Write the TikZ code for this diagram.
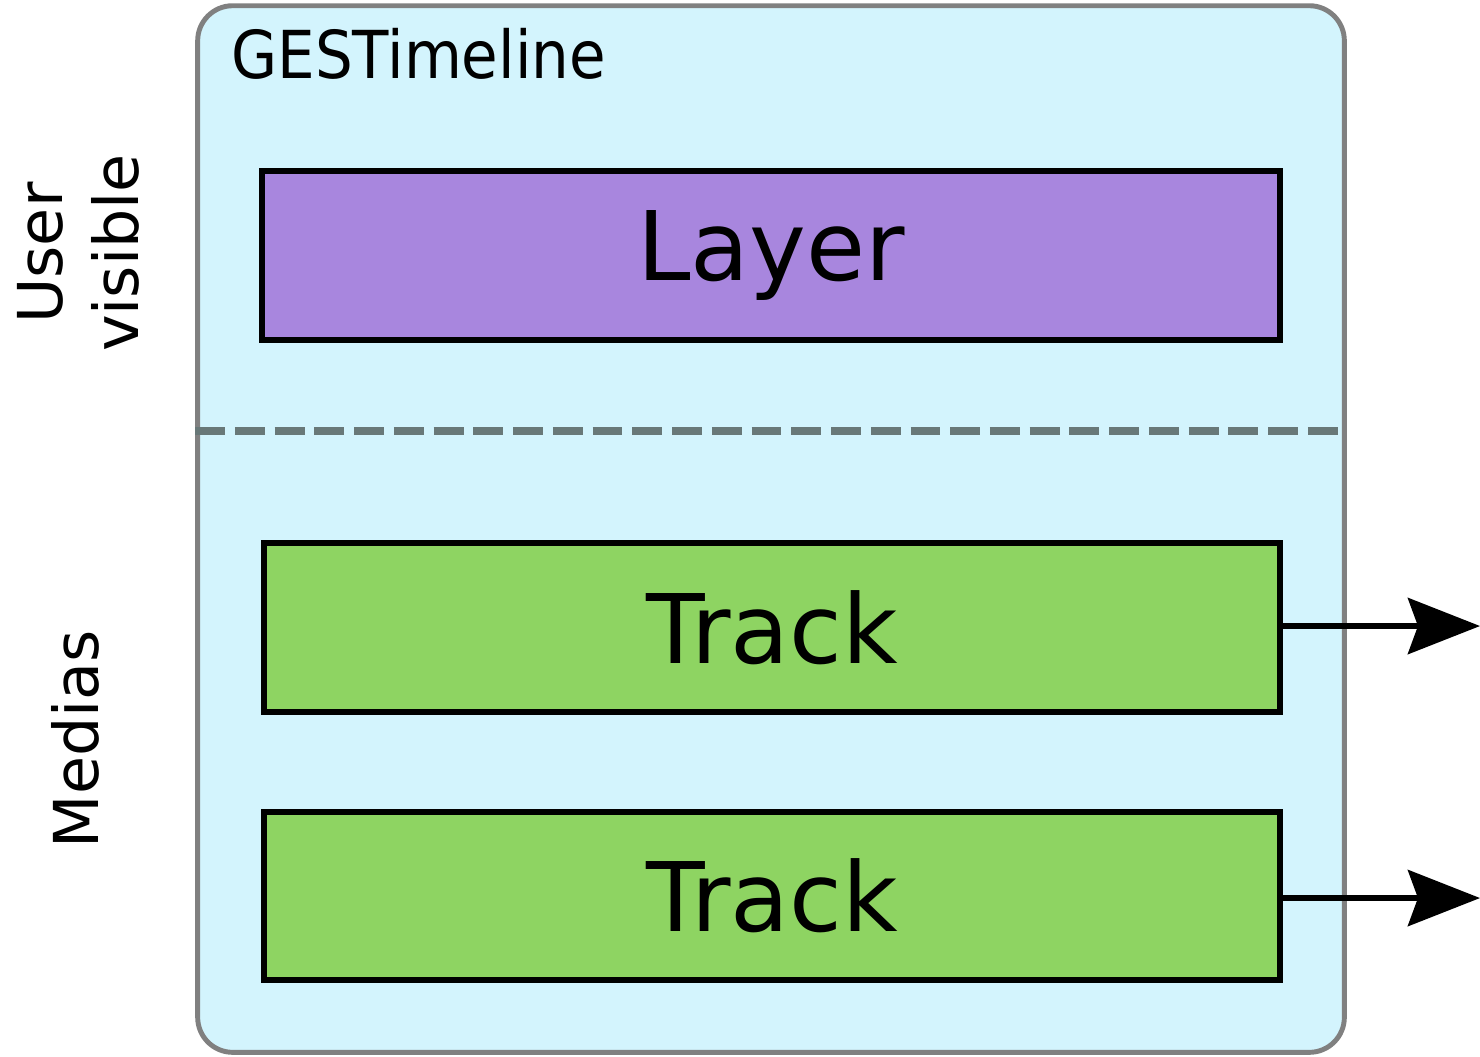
\documentclass[tikz,border=0pt]{standalone}
\usepackage{fontspec}
\setmainfont{DejaVu Sans}
\newfontfamily\condfont[FakeStretch=0.9]{DejaVu Sans}
\usetikzlibrary{arrows.meta}
\definecolor{timelinebg}{RGB}{211,244,253}
\definecolor{layercol}{RGB}{168,134,222}
\definecolor{trackcol}{RGB}{142,212,98}
\definecolor{bordergray}{RGB}{128,128,128}
\definecolor{dashgray}{RGB}{104,120,120}

\begin{document}
\begin{tikzpicture}[x=0.01cm,y=-0.01cm,
    box/.style={draw=black,line width=1.7pt,minimum width=10.16cm,minimum height=1.69cm,
      inner sep=0pt,font=\fontsize{27.3}{30}\selectfont},
    side/.style={rotate=90,align=center,inner sep=0pt,font=\fontsize{17.6}{21.6}\selectfont},
    outarrow/.style={line width=1.7pt,-{Stealth[length=0.72cm,width=0.56cm,inset=0.1cm]}}]
                \useasboundingbox (0,0) rectangle (1480,1056);

                % Timeline frame
                \node[draw=bordergray,fill=timelinebg,line width=1.4pt,rounded corners=0.35cm,
                  minimum width=11.46cm,minimum height=10.46cm] (timeline) at (771,529) {};
                \node[anchor=base west,font=\condfont\fontsize{18.8}{22}\selectfont] (title) at (219,78) {GESTimeline};

                % Separator
                \draw[dashgray,line width=2.3pt,dash pattern=on 8.5pt off 2.8pt] (timeline.west |- 0,431) -- (timeline.east |- 0,431);

                % Layer and tracks
                \node[box,fill=layercol,minimum width=10.18cm] (layer) at (771,255.5) {Layer};
                \node[box,fill=trackcol] (track1) at (772,627.5) {Track};
                \node[box,fill=trackcol,minimum height=1.68cm] (track2) at (772,896) {Track};

                % Outputs
                \coordinate (out1) at (1480,626);
                \coordinate (out2) at (1480,898);
                \draw[outarrow] (track1.east |- out1) -- (out1);
                \draw[outarrow] (track2.east |- out2) -- (out2);

                % Side labels
                \node[side] (user) at (78,253) {User\\visible};
                \node[side] (medias) at (75,739) {Medias};
            \end{tikzpicture}
\end{document}
